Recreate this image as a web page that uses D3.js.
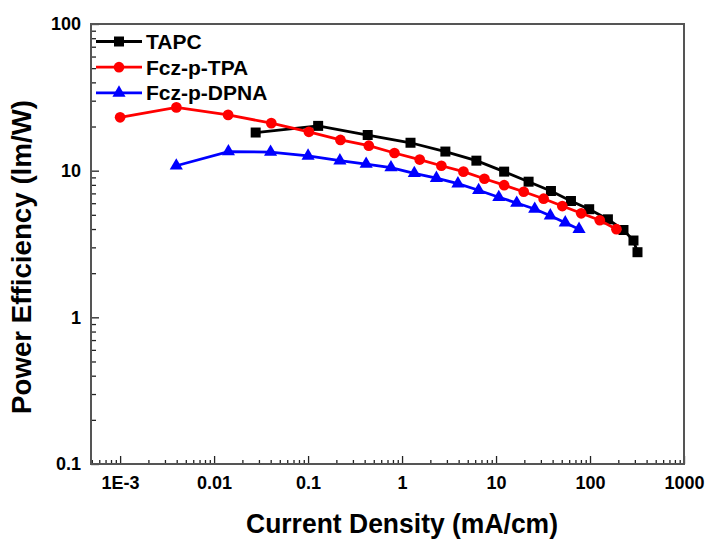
<!DOCTYPE html>
<html>
<head>
<meta charset="utf-8">
<script src="https://cdn.jsdelivr.net/npm/d3@7"></script>
<style>
  body { margin: 0; background: #fff; }
  text { font-family: "Liberation Sans", Arial, sans-serif; font-weight: bold; }
</style>
</head>
<body>
<script>
// ---- data ----
var seriesNames = ["TAPC", "Fcz-p-TPA", "Fcz-p-DPNA"];
var seriesColors = ["#000000", "#ff0000", "#0000ff"];

var tapcX = [0.0277, 0.128, 0.431, 1.23, 2.89, 6.18, 12.2, 22.2, 38.4, 62.7, 98, 155, 227, 290, 320];
var tapcY = [18.2, 20.2, 17.5, 15.5, 13.5, 11.7, 9.85, 8.41, 7.27, 6.21, 5.46, 4.66, 3.94, 3.34, 2.78];

var tpaX = [0.001, 0.00397, 0.0141, 0.0406, 0.102, 0.221, 0.443, 0.83, 1.54, 2.62, 4.5, 7.52, 12.2, 19.7, 32.1, 50.7, 80.6, 127, 191];
var tpaY = [23.1, 27.0, 24.0, 21.1, 18.4, 16.2, 14.8, 13.2, 11.9, 10.8, 9.85, 8.81, 7.96, 7.18, 6.44, 5.74, 5.12, 4.59, 3.99];

var dpnaX = [0.00396, 0.0142, 0.0399, 0.1, 0.218, 0.415, 0.762, 1.35, 2.32, 3.93, 6.53, 10.7, 16.6, 25.8, 37.8, 54.5, 76.4];
var dpnaY = [10.8, 13.5, 13.4, 12.6, 11.7, 11.1, 10.5, 9.6, 8.9, 8.15, 7.35, 6.59, 6.02, 5.48, 4.93, 4.42, 3.99];

var xTicks = [0.001, 0.01, 0.1, 1, 10, 100, 1000];
var xTickLabels = ["1E-3", "0.01", "0.1", "1", "10", "100", "1000"];
var yTicks = [0.1, 1, 10, 100];
var yTickLabels = ["0.1", "1", "10", "100"];

var xTitle = "Current Density (mA/cm)";
var yTitle = "Power Efficiency (lm/W)";

// ---- layout ----
var width = 708, height = 541;
var plotLeft = 91, plotRight = 684, plotTop = 24, plotBottom = 464;

var svg = d3.select("body").append("svg")
  .attr("width", width)
  .attr("height", height);

var x = d3.scaleLog().domain([4.9e-4, 1000]).range([plotLeft, plotRight]);
var y = d3.scaleLog().domain([0.1, 100]).range([plotBottom, plotTop]);

// minor tick values (2..9 in every decade)
function minors(lo, hi) {
  var out = [];
  for (var e = -4; e <= 3; e++) {
    for (var k = 2; k <= 9; k++) {
      var v = k * Math.pow(10, e);
      if (v > lo * 1.0001 && v < hi * 0.9999) out.push(v);
    }
  }
  return out;
}

function styleAxis(g) {
  g.selectAll("path.domain").remove();
  g.selectAll("line").attr("stroke", "#222").attr("stroke-width", 1.3);
  g.selectAll("text")
    .attr("fill", "#000")
    .style("font-size", "18px")
    .style("font-family", "'Liberation Sans', Arial, sans-serif")
    .style("font-weight", "bold");
}

// x axis
var gx = svg.append("g").attr("transform", "translate(0," + plotBottom + ")");
gx.append("g").call(d3.axisBottom(x).tickValues(minors(4.9e-4, 1000)).tickSize(-4).tickFormat(""));
gx.append("g").call(d3.axisBottom(x).tickValues(xTicks).tickSize(-8).tickPadding(12)
  .tickFormat(function (d, i) { return xTickLabels[i]; }));
styleAxis(gx);

// y axis
var gy = svg.append("g").attr("transform", "translate(" + plotLeft + ",0)");
gy.append("g").call(d3.axisLeft(y).tickValues(minors(0.1, 100)).tickSize(-5).tickFormat(""));
gy.append("g").call(d3.axisLeft(y).tickValues(yTicks).tickSize(-8).tickPadding(10)
  .tickFormat(function (d, i) { return yTickLabels[i]; }));
styleAxis(gy);

// frame
svg.append("rect")
  .attr("x", plotLeft).attr("y", plotTop)
  .attr("width", plotRight - plotLeft).attr("height", plotBottom - plotTop)
  .attr("fill", "none").attr("stroke", "#555").attr("stroke-width", 2);

// series
var series = [
  { name: seriesNames[0], color: seriesColors[0], shape: d3.symbolSquare, size: 100, xs: tapcX, ys: tapcY },
  { name: seriesNames[1], color: seriesColors[1], shape: d3.symbolCircle, size: 90, xs: tpaX, ys: tpaY },
  { name: seriesNames[2], color: seriesColors[2], shape: d3.symbolTriangle, size: 75, xs: dpnaX, ys: dpnaY }
];

var line = d3.line()
  .x(function (d) { return x(d[0]); })
  .y(function (d) { return y(d[1]); });

series.forEach(function (s) {
  var pts = s.xs.map(function (v, i) { return [v, s.ys[i]]; });
  svg.append("path")
    .datum(pts)
    .attr("d", line)
    .attr("fill", "none")
    .attr("stroke", s.color)
    .attr("stroke-width", 2.8);
  svg.selectAll(null)
    .data(pts)
    .enter()
    .append("path")
    .attr("d", d3.symbol().type(s.shape).size(s.size))
    .attr("transform", function (d) { return "translate(" + x(d[0]) + "," + y(d[1]) + ")"; })
    .attr("fill", s.color);
});

// legend
var legend = svg.append("g");
series.forEach(function (s, i) {
  var ly = 41.5 + i * 25.7;
  legend.append("line")
    .attr("x1", 96).attr("x2", 142).attr("y1", ly).attr("y2", ly)
    .attr("stroke", s.color).attr("stroke-width", 2.8);
  legend.append("path")
    .attr("d", d3.symbol().type(s.shape).size(s.size))
    .attr("transform", "translate(119," + ly + ")")
    .attr("fill", s.color);
  legend.append("text")
    .attr("x", 146).attr("y", ly + 7.5)
    .attr("font-size", 21)
    .text(s.name);
});

// axis titles
svg.append("text")
  .attr("x", 402).attr("y", 533)
  .attr("text-anchor", "middle")
  .attr("font-size", 27)
  .attr("textLength", 312)
  .attr("lengthAdjust", "spacingAndGlyphs")
  .text(xTitle);

svg.append("text")
  .attr("transform", "translate(31,257) rotate(-90)")
  .attr("text-anchor", "middle")
  .attr("font-size", 27)
  .attr("textLength", 314)
  .attr("lengthAdjust", "spacingAndGlyphs")
  .text(yTitle);
</script>
</body>
</html>
